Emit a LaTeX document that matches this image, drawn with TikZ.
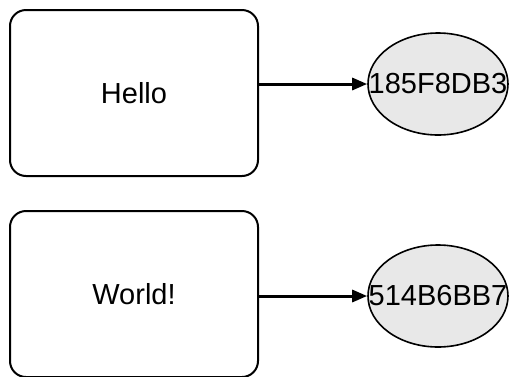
\documentclass[tikz,border=0pt]{standalone}
\usepackage{fontspec}
\setmainfont{Liberation Sans}
\usetikzlibrary{shapes.geometric,arrows.meta}
\definecolor{hashgray}{HTML}{E8E8E8}
\begin{document}
\begin{tikzpicture}[x=1pt,y=-1pt,>={Triangle[length=15pt,width=12pt]}, font=\fontsize{29}{33}\selectfont, line join=round]
  \tikzset{strbox/.style={draw,line width=2pt,rounded corners=16pt,minimum width=248pt,minimum height=166pt,inner sep=0pt},
           hashnode/.style={draw,ellipse,fill=hashgray,line width=1.6pt,minimum width=140pt,minimum height=102pt,inner sep=0pt}}
  \useasboundingbox (0,0) rectangle (509,376);
  \clip (0,0) rectangle (509,376);
  \node[strbox] (hello) at (134,93) {Hello};
  \node[strbox] (world) at (134,294) {World!};
  \node[hashnode] (hashA) at (438,84) {\makebox[0pt]{185F8DB3}};
  \node[hashnode] (hashB) at (438,296) {\makebox[0pt]{514B6BB7}};
  \draw[->,line width=3pt] (hashA -| hello.east)--(hashA.west);
  \draw[->,line width=3pt] (hashB -| world.east)--(hashB.west);
\end{tikzpicture}
\end{document}
